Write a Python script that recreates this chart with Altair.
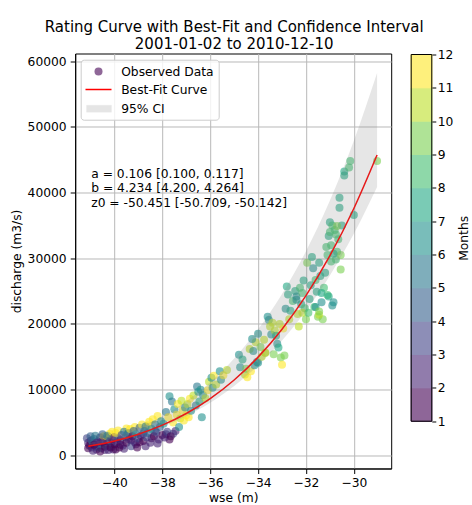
import altair as alt
import pandas as pd

wse = [
    -41.10, -41.05, -41.00, -40.95, -40.90, -40.85, -40.80, -40.75, -40.70, -40.65,
    -40.60, -40.55, -40.50, -40.45, -40.40, -40.35, -40.30, -40.25, -40.20, -40.15,
    -40.10, -40.05, -40.00, -40.95, -40.70, -40.45, -40.20,
    -41.15, -41.10, -41.00, -40.90, -40.85, -40.80, -40.75, -40.60, -40.55, -40.50,
    -40.40, -40.30, -40.25, -40.15, -40.10, -40.00, -39.95, -39.85, -39.75, -39.60,
    -39.50, -39.40, -39.30, -39.15, -39.10, -38.95, -38.80, -38.70, -38.60, -38.45,
    -38.30, -38.20, -37.85, -37.70, -37.55,
    -39.95, -39.85, -39.75, -39.70, -39.65, -39.60, -39.55, -39.50, -39.45, -39.40,
    -39.35, -39.30, -39.25, -39.20, -39.15, -39.10, -39.05, -39.00, -39.90, -39.80,
    -38.95, -38.90, -38.85, -38.80, -38.75, -38.70, -38.65, -38.60, -38.55, -38.50,
    -38.45, -38.40, -38.35, -38.30, -38.25, -38.20, -38.15, -38.10, -38.05, -38.00,
    -37.95, -37.90, -37.85, -37.80, -37.75, -37.70, -37.65, -37.60, -37.55, -37.50,
    -37.45, -37.40, -37.35, -37.30, -37.25, -37.20, -37.15, -37.10, -37.05, -37.00,
    -36.95, -36.90, -36.85, -36.80, -36.70, -36.60, -36.55, -36.50, -36.45, -36.40,
    -36.35, -36.30, -36.20, -36.10, -36.05,
    -35.95, -35.90, -35.85, -35.75, -35.60, -35.55, -35.45, -35.30,
    -34.80, -34.75, -34.65, -34.55, -34.50, -34.45, -34.35, -34.30, -34.20, -34.15,
    -34.10, -34.05, -34.00, -34.25, -34.00, -33.70,
    -33.90, -33.85, -33.75, -33.70, -33.60, -33.55, -33.50, -33.45, -33.40, -33.35,
    -33.30, -33.25, -33.20, -33.15, -33.10, -33.05, -33.00, -32.95, -32.90, -32.85,
    -32.80, -32.75, -32.70, -32.65, -32.55, -32.45, -32.40, -32.35, -32.30, -32.25,
    -32.20, -32.15, -32.10, -32.05, -32.00, -32.15, -32.40,
    -31.95, -31.90, -31.85, -31.80, -31.75, -31.70, -31.65, -31.60, -31.55, -31.50,
    -31.45, -31.40, -31.35, -31.30, -31.25, -31.20, -31.15, -31.10, -31.05, -31.00,
    -31.35, -31.60, -31.45, -31.45, -31.05,
    -30.95, -30.90, -30.85, -30.80, -30.75, -30.70, -30.65, -30.60, -30.60, -30.55,
    -30.55, -30.50, -30.40, -30.40, -30.20, -30.15, -30.00, -29.03,
    -31.00, -30.90, -30.75, -30.85, -30.95, -31.10, -30.70,
]
discharge = [
    1900, 1500, 2200, 1200, 1800, 2500, 1400, 900, 2100, 1600,
    2700, 1100, 1900, 2400, 800, 1500, 2200, 2800, 1300, 1900,
    2500, 900, 1700, 2300, 1200, 2900, 3300,
    2600, 1100, 2900, 700, 1600, 3000, 1900, 600, 2000, 3200,
    1300, 3000, 800, 1200, 3600, 2800, 900, 2600, 1600, 1000,
    4100, 3400, 2300, 4300, 1700, 2000, 3300, 1400, 4600, 2600,
    3700, 1800, 3200, 2400, 3300,
    3400, 3800, 2300, 3100, 1500, 3600, 2700, 1900, 3300, 2400,
    4000, 1400, 2900, 3700, 2000, 3200, 1200, 2600, 2000, 1200,
    4200, 3000, 4700, 2200, 3700, 4400, 2700, 3400, 5100, 1900,
    4000, 5500, 2900, 4700, 3500, 6000, 2400, 4300, 5200, 3100,
    4800, 2700, 6600, 3600, 5800, 9000, 2900, 8200, 5000, 7000,
    3700, 6200, 7800, 4300, 5600, 8300, 6800, 5300, 7300, 6100,
    7800, 5800, 8600, 6800, 9100, 7600, 10500, 9700, 8200, 10000,
    5800, 9200, 8700, 9900, 11200,
    11800, 10300, 12100, 10800, 12800, 11500, 12200, 13000,
    15300, 13400, 14600, 12300, 13200, 11900, 16200, 12800, 15900, 13700,
    17200, 14200, 18500, 17700, 14100, 15600,
    16500, 15000, 17600, 15600, 21100, 20600, 19600, 18400, 20200, 15400,
    19000, 18200, 17000, 16400, 20000, 14900, 13800, 19300, 15200, 22300,
    25700, 24500, 20700, 22000, 23500, 25000, 24200, 21500, 19600, 25500,
    23000, 24700, 26600, 22400, 20700, 21700, 23700,
    29300, 21700, 23800, 25900, 30200, 28500, 22600, 26700, 24900, 21100,
    29300, 27300, 23300, 20700, 25500, 27800, 31700, 24400, 33400, 35500,
    24700, 22600, 21400, 21900, 24200,
    32000, 22800, 23300, 34300, 29800, 31000, 32900, 39200, 37700, 30500,
    28300, 35000, 43200, 42600, 43800, 44800, 36600, 44800,
    34000, 35000, 33600, 30700, 29500, 30500, 34900,
]
month = [
    2, 1, 1, 3, 2, 4, 1, 2, 3, 1,
    2, 4, 1, 3, 2, 5, 1, 2, 3, 4,
    1, 2, 1, 5, 4, 12, 11,
    3, 1, 4, 2, 1, 5, 2, 1, 2, 4,
    1, 5, 2, 1, 12, 2, 1, 4, 1, 2,
    11, 3, 1, 12, 2, 1, 3, 2, 11, 1,
    4, 2, 2, 1, 3,
    12, 11, 1, 3, 2, 5, 4, 1, 5, 2,
    11, 3, 1, 4, 2, 6, 1, 3, 2, 1,
    4, 2, 12, 1, 5, 5, 3, 4, 11, 2,
    6, 11, 1, 5, 3, 12, 2, 4, 6, 1,
    6, 2, 5, 3, 12, 6, 1, 5, 11, 6,
    2, 12, 11, 6, 10, 10, 11, 12, 6, 11,
    10, 12, 11, 6, 10, 5, 5, 6, 7, 6,
    6, 6, 10, 11, 10,
    6, 6, 11, 10, 6, 6, 11, 10,
    6, 6, 7, 10, 9, 11, 10, 11, 6, 6,
    10, 6, 6, 6, 6, 10,
    9, 10, 10, 10, 6, 6, 10, 6, 10, 9,
    10, 7, 6, 7, 10, 9, 11, 11, 9, 6,
    7, 7, 10, 7, 8, 7, 6, 10, 10, 8,
    7, 8, 7, 8, 9, 10, 6,
    9, 8, 7, 7, 7, 6, 8, 8, 7, 9,
    7, 7, 6, 9, 8, 7, 8, 8, 7, 7,
    7, 6, 10, 9, 7,
    8, 6, 6, 8, 8, 8, 8, 7, 7, 9,
    9, 7, 7, 7, 8, 8, 7, 9,
    8, 8, 8, 7, 8, 8, 9,
]

# ---------------- best-fit curve and 95% CI ----------------
fit_wse = [-41.09, -40, -39, -38, -37, -36, -35, -34, -33, -32, -31, -30, -29.03]
fit_q = [1374, 2190, 3224, 4596, 6375, 8636, 11465, 14952, 19195, 24301, 30389, 37573, 45720]
ci_low = [1346, 2113, 3075, 4338, 5963, 8014, 10564, 13690, 17475, 22009, 27388, 33720, 40865]
ci_high = [1821, 2878, 4211, 5972, 8249, 11137, 14745, 19180, 24574, 31062, 38783, 47893, 58218]

# ---------------- colorbar bins ----------------
cb_start = list(range(1, 12))
cb_end = [v + 1 for v in cb_start]

x_ticks = [-40, -38, -36, -34, -32, -30]
y_ticks = [0, 10000, 20000, 30000, 40000, 50000, 60000]
cb_ticks = list(range(1, 13))

title_lines = ["Rating Curve with Best-Fit and Confidence Interval", "2001-01-02 to 2010-12-10"]
param_lines = ["a = 0.106 [0.100, 0.117]", "b = 4.234 [4.200, 4.264]", "z0 = -50.451 [-50.709, -50.142]"]
legend_labels = ["Observed Data", "Best-Fit Curve", "95% CI"]

FONT = "DejaVu Sans"
FS = 12.3
PT_SIZE = 64
W, H = 316, 415

pts = pd.DataFrame({"wse": wse, "discharge": discharge, "month": month})
fit = pd.DataFrame({"wse": fit_wse, "q": fit_q, "lo": ci_low, "hi": ci_high})
cbdf = pd.DataFrame({"start": cb_start, "end": cb_end, "month": cb_start, "x0": 0, "x1": 1})
cbframe = pd.DataFrame({"start": [1], "end": [12], "x0": [0], "x1": [1]})
one = pd.DataFrame({"k": [0]})

xs = alt.Scale(domain=[-41.64, -28.44], nice=False, zero=False)
ys = alt.Scale(domain=[-2000, 61170], nice=False, zero=False)
cscale = alt.Scale(scheme="viridis", domain=[1, 11], clamp=True)

xaxis = alt.Axis(values=x_ticks, format="d", title="wse (m)",
                 labelExpr="replace(datum.label, '-', '\u2212')",
                 tickSize=5, labelPadding=3, titlePadding=3)
yaxis = alt.Axis(values=y_ticks, format="d", title="discharge (m3/s)",
                 tickSize=5, labelPadding=4, titlePadding=3.5)

points = alt.Chart(pts).mark_circle(size=PT_SIZE, opacity=0.6).encode(
    x=alt.X("wse:Q", scale=xs, axis=xaxis),
    y=alt.Y("discharge:Q", scale=ys, axis=yaxis),
    color=alt.Color("month:Q", scale=cscale, legend=None),
)

line = alt.Chart(fit).mark_line(color="red", strokeWidth=1.5, interpolate="monotone").encode(
    x=alt.X("wse:Q", scale=xs),
    y=alt.Y("q:Q", scale=ys),
)

band = alt.Chart(fit).mark_area(color="gray", opacity=0.2, interpolate="monotone").encode(
    x=alt.X("wse:Q", scale=xs),
    y=alt.Y("lo:Q", scale=ys),
    y2="hi:Q",
)

# legend box (decoration)
leg_box = alt.Chart(one).mark_rect(fill="white", fillOpacity=0.8, stroke="#cccccc",
                                   strokeWidth=1, cornerRadius=3).encode(
    x=alt.value(6), x2=alt.value(144), y=alt.value(6.7), y2=alt.value(66.7))
leg_pt = alt.Chart(one).mark_circle(size=PT_SIZE, color="#440154", opacity=0.6).encode(
    x=alt.value(23.3), y=alt.value(18))
leg_line = alt.Chart(one).mark_rule(color="red", strokeWidth=1.5).encode(
    x=alt.value(10.3), x2=alt.value(36.3), y=alt.value(36))
leg_patch = alt.Chart(one).mark_rect(fill="gray", opacity=0.2, stroke="gray", strokeOpacity=0.2).encode(
    x=alt.value(11.3), x2=alt.value(36.3), y=alt.value(51.7), y2=alt.value(58.7))
leg_texts = [
    alt.Chart(one).mark_text(text=t, align="left", baseline="middle", font=FONT,
                             fontSize=FS, color="black").encode(x=alt.value(46), y=alt.value(yy))
    for t, yy in zip(legend_labels, [18, 36, 55])
]
param_texts = [
    alt.Chart(one).mark_text(text=t, align="left", baseline="middle", font=FONT,
                             fontSize=FS, color="black").encode(x=alt.value(16), y=alt.value(yy))
    for t, yy in zip(param_lines, [120, 134.5, 149])
]

main = alt.layer(points, line, band, leg_box, leg_pt, leg_line, leg_patch,
                 *leg_texts, *param_texts)

# ---------------- colorbar drawn beside the plot through its own scales ----------------
cb_x = alt.Scale(domain=[0, 1], range=[336, 356.6], nice=False, zero=False)
cb_y = alt.Scale(domain=[1, 12], range=[367.7, 1], nice=False, zero=False)
cb_axis = alt.Axis(orient="right", values=cb_ticks, format="d", title="Months",
                   grid=False, domain=False, tickSize=4, labelPadding=1.5,
                   titlePadding=5, titleAngle=270, titleBaseline="top", offset=40.6)

cbar = alt.Chart(cbdf).mark_rect(opacity=1, strokeWidth=1).encode(
    x=alt.X("x0:Q", scale=cb_x, axis=None),
    x2="x1:Q",
    y=alt.Y("start:Q", scale=cb_y, axis=cb_axis),
    y2="end:Q",
    color=alt.Color("month:Q", scale=cscale, legend=None),
    stroke=alt.Stroke("month:Q", scale=cscale, legend=None),
)
# white veil at 40% reproduces the 0.6 alpha of the colour bar on white paper
cbar_frame = alt.Chart(cbframe).mark_rect(fill="white", fillOpacity=0.4, stroke="black",
                                          strokeWidth=1).encode(
    x=alt.X("x0:Q", scale=cb_x, axis=None),
    x2="x1:Q",
    y=alt.Y("start:Q", scale=cb_y, axis=cb_axis),
    y2="end:Q",
)
cb_layer = alt.layer(cbar, cbar_frame)

chart = alt.layer(main, cb_layer).resolve_scale(
    x="independent", y="independent"
).properties(
    width=W, height=H,
    title=alt.TitleParams(text=title_lines, fontSize=15, fontWeight="normal",
                          lineHeight=17.5, anchor="middle", offset=-3.7, dx=1,
                          font=FONT, color="black"),
    padding={"left": 10.2, "top": 19.5, "right": 0, "bottom": 0},
).configure_view(
    stroke="black", strokeWidth=1
).configure_axis(
    labelFont=FONT, titleFont=FONT, labelFontSize=FS, titleFontSize=FS,
    labelColor="black", titleColor="black", tickColor="black", domainColor="black",
    titleFontWeight="normal", gridColor="#b8b8b8", gridWidth=1,
)

chart.save("out.html", embed_options={"renderer": "svg", "actions": False})
